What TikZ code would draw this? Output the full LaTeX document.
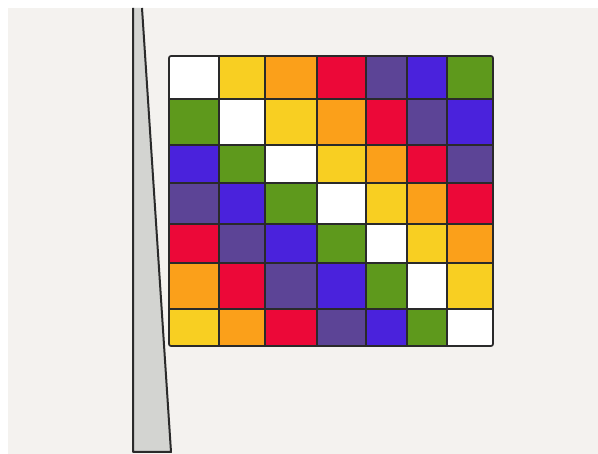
\documentclass[tikz,border=0pt]{standalone}
\usepackage{tikz}

\definecolor{paper}{HTML}{F4F2EF}
\definecolor{ink}{HTML}{2A2A2A}
\definecolor{polegray}{HTML}{D3D4D1}
\definecolor{flagyellow}{HTML}{F8CF22}
\definecolor{flagorange}{HTML}{FBA01A}
\definecolor{flagred}{HTML}{EC0838}
\definecolor{flagpurple}{HTML}{5C4496}
\definecolor{flagblue}{HTML}{4A22DC}
\definecolor{flaggreen}{HTML}{5E991C}

\begin{document}
\begin{tikzpicture}[
x=1pt, y=-1pt, % pixel grid of the sketch, y going down
line join=round,
gridline/.style={draw=ink, line width=1.7pt},
pole/.style={fill=polegray},
poleline/.style={draw=ink, line width=2pt}
]

% ================= Canvas =================
\useasboundingbox (0,0) rectangle (598,454);
\fill[white] (0,0) rectangle (598,454);
\fill[paper] (8,8) rectangle (598,454);

% ================= Pole =================
\fill[pole] (133,8) -- (142,8) -- (171,452) -- (133,452) -- cycle;
\draw[poleline] (142,8) -- (171,452) -- (133,452) -- (133,8);

% ================= Flag (cyclic colour square) =================
\def\colx{{169,219,265,317,366,407,447,493}}
\def\rowy{{56,99,145,183,224,263,309,346}}
\def\flagcols{{"white","flagyellow","flagorange","flagred","flagpurple","flagblue","flaggreen"}}

\foreach \r in {0,...,6} {
  \foreach \c in {0,...,6} {
    \pgfmathsetmacro\xa{\colx[\c]}
    \pgfmathsetmacro\xb{\colx[\c+1]}
    \pgfmathsetmacro\ya{\rowy[\r]}
    \pgfmathsetmacro\yb{\rowy[\r+1]}
    \pgfmathtruncatemacro\k{mod(\c-\r+7,7)}
    \pgfmathsetmacro\fc{\flagcols[\k]}
    \fill[\fc] (\xa,\ya) rectangle (\xb,\yb);
  }
}

% grid lines
\foreach \c in {1,...,6} {
  \pgfmathsetmacro\xa{\colx[\c]}
  \draw[gridline] (\xa,56) -- (\xa,346);
}
\foreach \r in {1,...,6} {
  \pgfmathsetmacro\ya{\rowy[\r]}
  \draw[gridline] (169,\ya) -- (493,\ya);
}

% outline
\draw[gridline, rounded corners=2pt] (169,56) rectangle (493,346);

\end{tikzpicture}
\end{document}
